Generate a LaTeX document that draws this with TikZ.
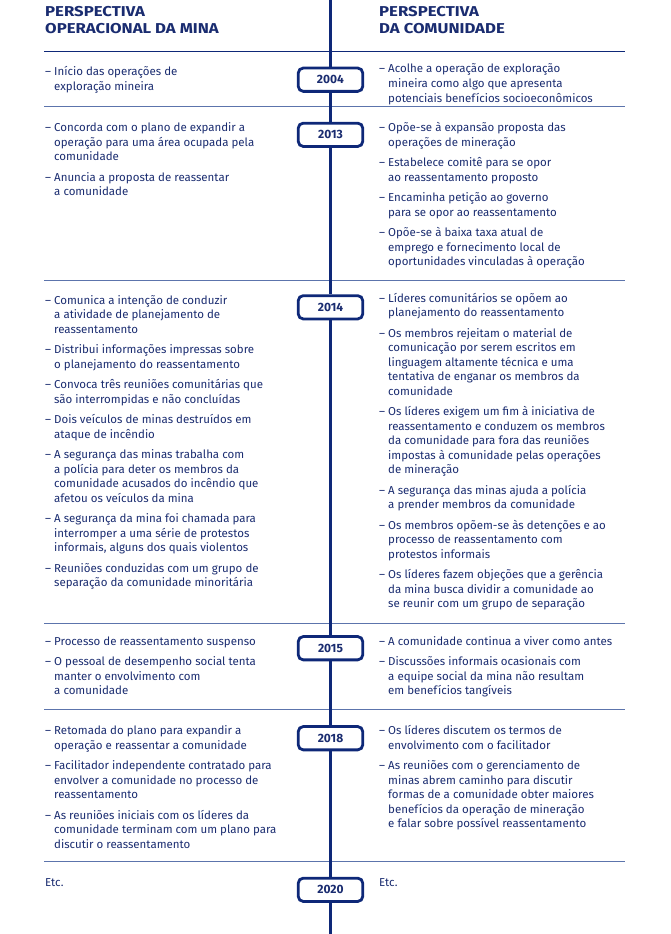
\documentclass[tikz,border=0pt]{standalone}
\usepackage{fontspec}
\setmainfont{Fira Sans}
\newfontfamily\hdrfont[FakeStretch=1.17]{Fira Sans}
\definecolor{navy}{RGB}{14,40,120}
\definecolor{txtc}{RGB}{26,44,112}
\definecolor{sepc}{RGB}{92,116,172}
\newcommand\A[1]{\hbox{\makebox[9pt][l]{–}#1}}
\newcommand\B[1]{\hbox{\hspace*{9pt}#1}}
\newcommand\G{\vskip6pt}
\tikzset{
  txt/.style={anchor=base west, inner sep=0pt, text=txtc,
    font=\fontsize{11.5}{14.5}\selectfont},
  hdr/.style={anchor=base west, inner sep=0pt, text=txtc,
    font=\hdrfont\bfseries\fontsize{14.3}{17}\selectfont},
  yr/.style={draw=navy, line width=2.8pt, rounded corners=5pt, fill=white,
    minimum width=64.5pt, minimum height=23.3pt, inner sep=0pt, text=txtc,
    font=\bfseries\fontsize{12}{14}\selectfont},
  sep/.style={draw=sepc, line width=1.5pt},
  tl/.style={draw=navy, line width=2.8pt}
}
\begin{document}
\begin{tikzpicture}[x=1pt,y=-1pt]
\useasboundingbox (0,0) rectangle (670,934);
% separators
\draw[navy, line width=1.4pt] (44,51.7) -- (625,51.7);
\foreach \yy in {106.7,280.3,623.3,709.5,861.7} \draw[sep] (44,\yy) -- (625,\yy);
% timeline nodes
\coordinate (top) at (330.5,0);
\coordinate (bot) at (330.5,934);
\node[yr] (y2004) at (330.5,79.7) {2004};
\node[yr] (y2013) at (330.5,134.8) {2013};
\node[yr] (y2014) at (330.5,307.3) {2014};
\node[yr] (y2015) at (330.5,648.2) {2015};
\node[yr] (y2018) at (330.5,738.2) {2018};
\node[yr] (y2020) at (330.5,889.8) {2020};
\draw[tl] (top) -- (y2004) (y2004) -- (y2013) (y2013) -- (y2014) (y2014) -- (y2015)
  (y2015) -- (y2018) (y2018) -- (y2020) (y2020) -- (bot);
% headers
\node[hdr] (hl) at (45,17) {\vtop{\hbox{PERSPECTIVA}\hbox{OPERACIONAL DA MINA}}};
\node[hdr] (hr) at (379,17) {\vtop{\hbox{PERSPECTIVA}\hbox{DA COMUNIDADE}}};
% 2004
\node[txt] (l2004) at (45,75.7) {\vtop{\A{Início das operações de}\B{exploração mineira}}};
\node[txt] (r2004) at (379,73) {\vtop{\A{Acolhe a operação de exploração}\B{mineira como algo que apresenta}\B{potenciais benefícios socioeconômicos}}};
% 2013
\node[txt] (l2013) at (45,131.7) {\vtop{\A{Concorda com o plano de expandir a}\B{operação para uma área ocupada pela}\B{comunidade}\G
\A{Anuncia a proposta de reassentar}\B{a comunidade}}};
\node[txt] (r2013) at (379,131.7) {\vtop{\A{Opõe-se à expansão proposta das}\B{operações de mineração}\G
\A{Estabelece comitê para se opor}\B{ao reassentamento proposto}\G
\A{Encaminha petição ao governo}\B{para se opor ao reassentamento}\G
\A{Opõe-se à baixa taxa atual de}\B{emprego e fornecimento local de}\B{oportunidades vinculadas à operação}}};
% 2014
\node[txt] (l2014) at (45,304) {\vtop{\A{Comunica a intenção de conduzir}\B{a atividade de planejamento de}\B{reassentamento}\G
\A{Distribui informações impressas sobre}\B{o planejamento do reassentamento}\G
\A{Convoca três reuniões comunitárias que}\B{são interrompidas e não concluídas}\G
\A{Dois veículos de minas destruídos em}\B{ataque de incêndio}\G
\A{A segurança das minas trabalha com}\B{a polícia para deter os membros da}\B{comunidade acusados do incêndio que}\B{afetou os veículos da mina}\G
\A{A segurança da mina foi chamada para}\B{interromper a uma série de protestos}\B{informais, alguns dos quais violentos}\G
\A{Reuniões conduzidas com um grupo de}\B{separação da comunidade minoritária}}};
\node[txt] (r2014) at (379,302.3) {\vtop{\A{Líderes comunitários se opõem ao}\B{planejamento do reassentamento}\G
\A{Os membros rejeitam o material de}\B{comunicação por serem escritos em}\B{linguagem altamente técnica e uma}\B{tentativa de enganar os membros da}\B{comunidade}\G
\A{Os líderes exigem um fim à iniciativa de}\B{reassentamento e conduzem os membros}\B{da comunidade para fora das reuniões}\B{impostas à comunidade pelas operações}\B{de mineração}\G
\A{A segurança das minas ajuda a polícia}\B{a prender membros da comunidade}\G
\A{Os membros opõem-se às detenções e ao}\B{processo de reassentamento com}\B{protestos informais}\G
\A{Os líderes fazem objeções que a gerência}\B{da mina busca dividir a comunidade ao}\B{se reunir com um grupo de separação}}};
% 2015
\node[txt] (l2015) at (45,645) {\vtop{\A{Processo de reassentamento suspenso}\G
\A{O pessoal de desempenho social tenta}\B{manter o envolvimento com}\B{a comunidade}}};
\node[txt] (r2015) at (379,645) {\vtop{\A{A comunidade continua a viver como antes}\G
\A{Discussões informais ocasionais com}\B{a equipe social da mina não resultam}\B{em benefícios tangíveis}}};
% 2018
\node[txt] (l2018) at (45,734.7) {\vtop{\A{Retomada do plano para expandir a}\B{operação e reassentar a comunidade}\G
\A{Facilitador independente contratado para}\B{envolver a comunidade no processo de}\B{reassentamento}\G
\A{As reuniões iniciais com os líderes da}\B{comunidade terminam com um plano para}\B{discutir o reassentamento}}};
\node[txt] (r2018) at (379,734.7) {\vtop{\A{Os líderes discutem os termos de}\B{envolvimento com o facilitador}\G
\A{As reuniões com o gerenciamento de}\B{minas abrem caminho para discutir}\B{formas de a comunidade obter maiores}\B{benefícios da operação de mineração}\B{e falar sobre possível reassentamento}}};
% 2020
\node[txt] (l2020) at (45,886.5) {Etc.};
\node[txt] (r2020) at (379,886.5) {Etc.};
\end{tikzpicture}
\end{document}
